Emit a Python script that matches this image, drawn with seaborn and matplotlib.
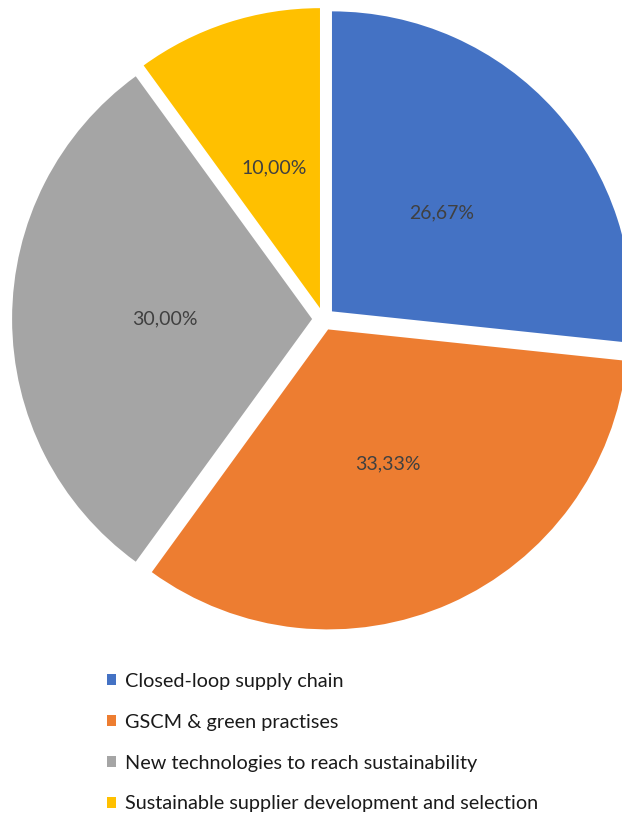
import matplotlib
matplotlib.use("Agg")
import matplotlib.pyplot as plt
import seaborn as sns
from matplotlib.patches import Patch

categories = ["Closed-loop supply chain", "GSCM & green practises",
              "New technologies to reach sustainability",
              "Sustainable supplier development and selection"]
values = [26.67, 33.33, 30.00, 10.00]
pct_labels = ["26,67%", "33,33%", "30,00%", "10,00%"]
colors = ["#4472C4", "#ED7D31", "#A5A5A5", "#FFC000"]

sns.set_style("white")
plt.rcParams['font.family'] = ['Lato', 'DejaVu Sans']

W, H = 622, 816
fig = plt.figure(figsize=(W / 100, H / 100), dpi=100)
ax = fig.add_axes([0, 0, 1, 1])

cx, cy, unit = 323.5, 319, 300.0
wedges, texts = ax.pie(values, colors=colors, startangle=90, counterclock=False,
                       explode=[0.038] * 4, radius=1.0, labels=pct_labels,
                       labeldistance=0.49,
                       wedgeprops=dict(edgecolor="none", linewidth=0),
                       textprops=dict(color="#404040", fontsize=14, ha="center", va="center"))
for t in texts:
    t.set_horizontalalignment("center")

ax.set_aspect("auto")
ax.set_xlim(-cx / unit, (W - cx) / unit)
ax.set_ylim(-(H - cy) / unit, cy / unit)
ax.axis("off")

handles = [Patch(facecolor=c, edgecolor="none") for c in colors]
fig.legend(handles, categories, loc="upper left", bbox_to_anchor=(89 / W, 1 - 655 / H),
           frameon=False, fontsize=14.3, handlelength=0.45, handleheight=0.45,
           handletextpad=0.45, labelspacing=1.2, labelcolor="#1a1a1a")

fig.savefig("out.png", dpi=100)
